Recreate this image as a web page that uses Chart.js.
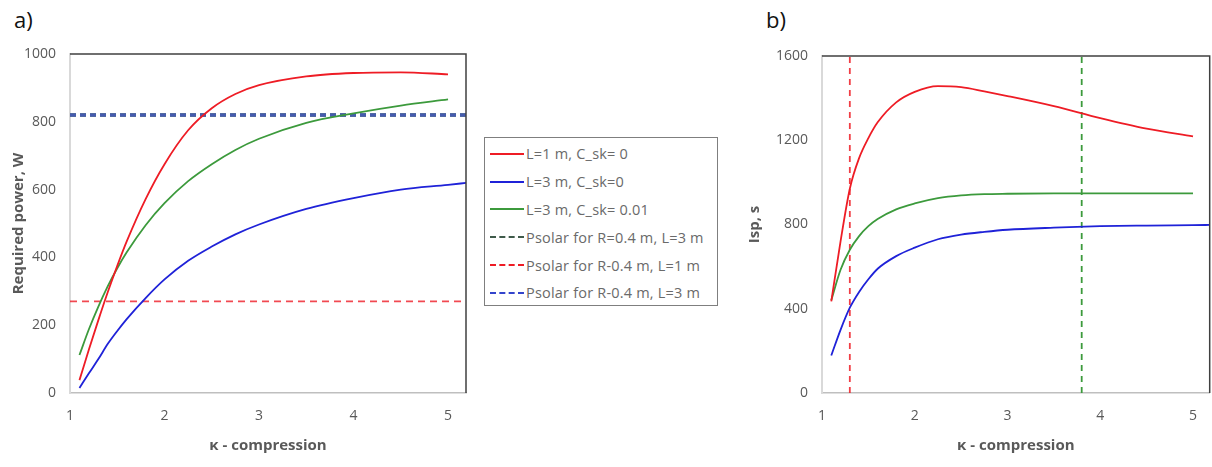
<!DOCTYPE html>
<html>
<head>
<meta charset="utf-8">
<script src="https://cdn.jsdelivr.net/npm/chart.js@4.4.0/dist/chart.umd.min.js"></script>
<style>
  body { margin: 0; width: 1212px; height: 467px; background: #fff; position: relative; overflow: hidden; font-family: 'Open Sans', sans-serif; }
  .panel { position: absolute; font-size: 22px; color: #111; }
  #wrapA { position: absolute; left: 0; top: 0; width: 470px; height: 467px; }
  #wrapB { position: absolute; left: 740px; top: 0; width: 472px; height: 467px; }
  #legend { position: absolute; left: 484px; top: 137px; width: 234px; height: 169px; border: 1.5px solid #7f7f7f; box-sizing: border-box; padding-top: 2px; }
  .item { height: 27.8px; display: flex; align-items: center; font-size: 14.5px; letter-spacing: 0.2px; color: #6a6a6a; white-space: nowrap; }
  .sample { width: 34px; margin-left: 5px; margin-right: 2px; }
</style>
</head>
<body>
<div class="panel" style="left:14px; top:4px;">a)</div>
<div class="panel" style="left:766px; top:4px;">b)</div>
<div id="wrapA"><canvas id="chartA"></canvas></div>
<div id="wrapB"><canvas id="chartB"></canvas></div>
<div id="legend"></div>
<script>
// kappa (compression) values shared by the curves
const kappa = [1.1, 1.2, 1.3, 1.4, 1.5, 1.6, 1.8, 2.0, 2.25, 2.5, 2.75, 3.0, 3.5, 4.0, 4.5, 5.0];
const kappaLong = kappa.concat([5.2]);

// a) required power, W
const powerL1 = [38, 128, 215, 298, 375, 447, 572, 675, 775, 840, 882, 908, 934, 944, 946, 940];
const powerL3 = [15, 58, 100, 145, 183, 218, 280, 335, 390, 432, 468, 497, 543, 575, 600, 614, 620];
const powerL3sk = [112, 188, 255, 315, 368, 415, 495, 560, 625, 675, 717, 750, 797, 825, 848, 866];
const psolarL1 = 270;
const psolarL3 = 820;

// b) Isp, s
const ispL1 = [435, 720, 970, 1115, 1210, 1285, 1380, 1430, 1457, 1452, 1432, 1410, 1362, 1305, 1255, 1218];
const ispL3 = [178, 300, 405, 480, 540, 590, 650, 690, 730, 752, 765, 775, 785, 792, 795, 797, 798];
const ispL3sk = [440, 585, 680, 745, 792, 826, 872, 900, 925, 938, 944, 946, 948, 948, 948, 948];
const kappaLineL1 = 1.3;
const kappaLineL3 = 3.8;

const xTicks = [1, 2, 3, 4, 5];
const powerTicks = [0, 200, 400, 600, 800, 1000];
const ispTicks = [0, 400, 800, 1200, 1600];

const legendLabels = ['L=1 m, C_sk= 0', 'L=3 m, C_sk=0', 'L=3 m, C_sk= 0.01',
  'Psolar for R=0.4 m, L=3 m', 'Psolar for R-0.4 m, L=1 m', 'Psolar for R-0.4 m, L=3 m'];
const legendColors = ['#ee1c25', '#1f22d8', '#3c9a3c', '#3f5a4a', '#ee1c25', '#3344cc'];
const legendDashed = [false, false, false, true, true, true];

const RED = '#ee1c25', BLUE = '#1f22d8', GREEN = '#3c9a3c';
const tickFont = { family: 'Open Sans', size: 14 };
const titleFont = { family: 'Open Sans', size: 15, weight: 'bold' };

function pts(xs, ys) { return ys.map((y, i) => ({ x: xs[i], y: y })); }

const frame = {
  id: 'frame',
  afterDraw(chart) {
    const { ctx, chartArea: a } = chart;
    ctx.save();
    ctx.strokeStyle = '#404040';
    ctx.lineWidth = 1.5;
    ctx.beginPath();
    ctx.moveTo(a.left, a.top);
    ctx.lineTo(a.right, a.top);
    ctx.lineTo(a.right, a.bottom);
    ctx.stroke();
    ctx.restore();
  }
};

function curve(data, color) {
  return { data: data, borderColor: color, borderWidth: 1.8, pointRadius: 0, cubicInterpolationMode: 'monotone', fill: false };
}
function dashed(data, color, width, dash) {
  return { data: data, borderColor: color, borderWidth: width, borderDash: dash, pointRadius: 0, fill: false };
}

function axes(xMax, yMax, yTicks, yTitle, yWidth, titlePad) {
  return {
    x: {
      type: 'linear', min: 1, max: xMax,
      afterBuildTicks: s => { s.ticks = xTicks.map(v => ({ value: v })); },
      afterFit: s => { s.height = 74; },
      grid: { display: true, drawOnChartArea: false, drawTicks: false },
      border: { color: '#bfbfbf', width: 1.5 },
      ticks: { font: tickFont, color: '#595959', padding: 15, callback: v => String(v) },
      title: { display: true, text: 'κ - compression', font: titleFont, color: '#595959', padding: { top: 4, bottom: 12 } }
    },
    y: {
      type: 'linear', min: 0, max: yMax,
      afterBuildTicks: s => { s.ticks = yTicks.map(v => ({ value: v })); },
      afterFit: s => { s.width = yWidth; },
      grid: { display: true, drawOnChartArea: false, drawTicks: false },
      border: { color: '#d9d9d9', width: 2 },
      ticks: { font: tickFont, color: '#595959', padding: 14, callback: v => String(v) },
      title: { display: true, text: yTitle, font: titleFont, color: '#595959', padding: { top: titlePad, bottom: 4 } }
    }
  };
}

const common = {
  responsive: true,
  maintainAspectRatio: false,
  animation: false,
  plugins: { legend: { display: false }, tooltip: { enabled: false } }
};

// dataset 0 is drawn on top
new Chart(document.getElementById('chartA').getContext('2d'), {
  type: 'line',
  data: {
    datasets: [
      curve(pts(kappa, powerL1), RED),
      curve(pts(kappa, powerL3sk), GREEN),
      curve(pts(kappaLong, powerL3), BLUE),
      dashed([{ x: 1, y: psolarL1 }, { x: 5.2, y: psolarL1 }], 'rgba(238,28,37,0.8)', 1.8, [7, 5]),
      dashed([{ x: 1, y: psolarL3 }, { x: 5.2, y: psolarL3 }], 'rgba(70,90,185,0.9)', 3.5, [6, 4]),
      dashed([{ x: 1, y: psolarL3 }, { x: 5.2, y: psolarL3 }], '#3f6a4a', 3.5, [6, 4])
    ]
  },
  options: {
    ...common,
    layout: { padding: { top: 54, right: 4, left: 0, bottom: 0 } },
    scales: axes(5.19, 1000, powerTicks, 'Required power, W', 70, 10)
  },
  plugins: [frame]
});

new Chart(document.getElementById('chartB').getContext('2d'), {
  type: 'line',
  data: {
    datasets: [
      curve(pts(kappa, ispL1), RED),
      curve(pts(kappa, ispL3sk), GREEN),
      curve(pts(kappaLong, ispL3), BLUE),
      dashed([{ x: kappaLineL1, y: 0 }, { x: kappaLineL1, y: 1600 }], 'rgba(238,28,37,0.85)', 1.8, [6, 5]),
      dashed([{ x: kappaLineL3, y: 0 }, { x: kappaLineL3, y: 1600 }], GREEN, 1.8, [6, 5])
    ]
  },
  options: {
    ...common,
    layout: { padding: { top: 56, right: 0, left: 0, bottom: 0 } },
    scales: axes(5.18, 1600, ispTicks, 'Isp, s', 82, 6)
  },
  plugins: [frame]
});

// legend box shared by both panels
const legend = document.getElementById('legend');
legendLabels.forEach((label, i) => {
  const item = document.createElement('div');
  item.className = 'item';
  const sample = document.createElement('span');
  sample.className = 'sample';
  sample.style.borderTop = '2px ' + (legendDashed[i] ? 'dashed ' : 'solid ') + legendColors[i];
  item.appendChild(sample);
  item.appendChild(document.createTextNode(label));
  legend.appendChild(item);
});
</script>
</body>
</html>
